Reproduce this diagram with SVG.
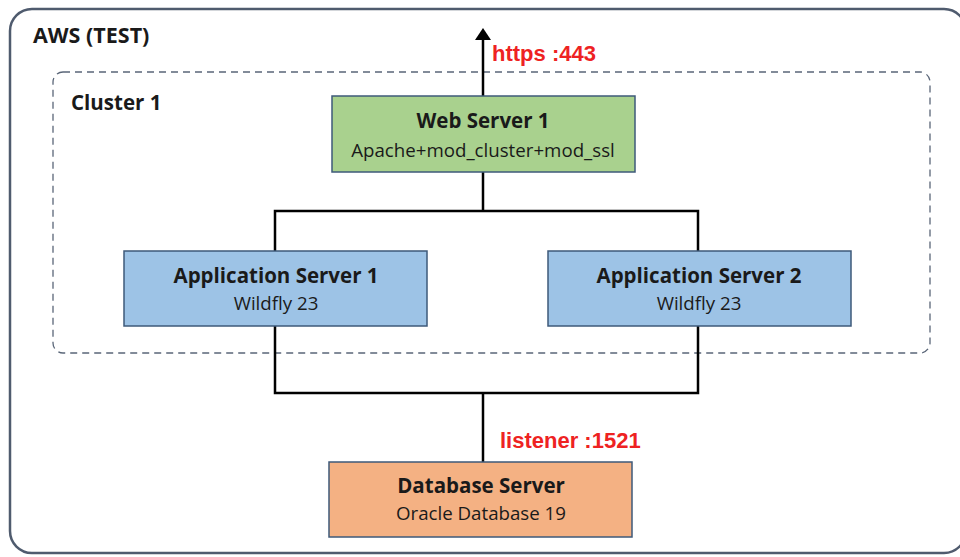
<svg xmlns="http://www.w3.org/2000/svg" width="960" height="557" viewBox="0 0 960 557">
<defs>
<style>
.t{font-family:"Open Sans","Liberation Sans",sans-serif;fill:#1a1a1a;text-anchor:middle}
.b{font-weight:bold;font-size:20.5px}
.s{font-size:18.7px}
.red{font-family:"Liberation Sans",Arial,sans-serif;font-weight:bold;font-size:22px;fill:#ee2222}
.box{stroke:#3e5a7a;stroke-width:1.5}
.ln{stroke:#000;stroke-width:2.5;fill:none}
</style>
</defs>
<rect width="960" height="557" fill="#fff"/>
<g id="aws">
<rect x="10" y="9" width="956" height="544" rx="22" fill="none" stroke="#4f5b6e" stroke-width="2.5"/>
<text x="33" y="43" class="t b" style="text-anchor:start;font-size:21.5px">AWS (TEST)</text>
</g>
<g id="cluster1">
<rect x="53" y="72" width="877" height="281" rx="10" fill="none" stroke="#5a6678" stroke-width="1.3" stroke-dasharray="7,5"/>
<text x="71" y="110" class="t b" style="text-anchor:start">Cluster 1</text>
</g>
<g id="connectors">
<line x1="483" y1="96" x2="483" y2="38" class="ln"/>
<polygon points="483,28 475,40 491,40" fill="#000"/>
<polyline points="483,172 483,211" class="ln"/>
<polyline points="275,251 275,211 698,211 698,251" class="ln"/>
<polyline points="275,326 275,393 698,393 698,326" class="ln"/>
<polyline points="483,393 483,462" class="ln"/>
<text x="492" y="61" class="red">https :443</text>
<text x="500" y="448" class="red">listener :1521</text>
</g>
<g id="web-server-1">
<rect x="332" y="96" width="303" height="76" fill="#a9d18e" class="box"/>
<text x="483" y="128" class="t b">Web Server 1</text>
<text x="483" y="157" class="t s">Apache+mod_cluster+mod_ssl</text>
</g>
<g id="app-server-1">
<rect x="124" y="251" width="303" height="75" fill="#9dc3e6" class="box"/>
<text x="276" y="283" class="t b">Application Server 1</text>
<text x="276" y="310" class="t s">Wildfly 23</text>
</g>
<g id="app-server-2">
<rect x="548" y="251" width="303" height="75" fill="#9dc3e6" class="box"/>
<text x="699" y="283" class="t b">Application Server 2</text>
<text x="699" y="310" class="t s">Wildfly 23</text>
</g>
<g id="database-server">
<rect x="329" y="462" width="303" height="75" fill="#f4b183" class="box"/>
<text x="481" y="493" class="t b">Database Server</text>
<text x="481" y="520" class="t s">Oracle Database 19</text>
</g>
</svg>
